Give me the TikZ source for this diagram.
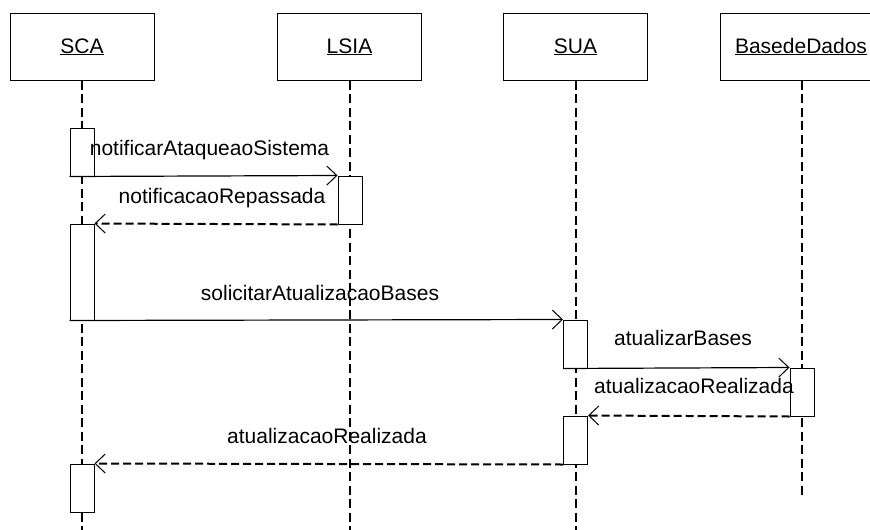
\documentclass[tikz,border=0pt]{standalone}
\usepackage{fontspec}
\setmainfont{Liberation Sans}
\usetikzlibrary{arrows.meta}
\begin{document}
\begin{tikzpicture}[x=1pt,y=-1pt,
  lbl/.style={font=\fontsize{21}{25}\selectfont, inner sep=0pt, anchor=base},
  objbox/.style={draw, line width=1pt, fill=white, minimum height=67pt, inner sep=0pt},
  actbar/.style={draw, line width=1pt, fill=white, minimum width=24pt, inner sep=0pt},
  lifeline/.style={line width=2pt, dash pattern=on 9pt off 4.5pt},
  tip/.style={-{Straight Barb[length=10pt,width=19pt,line width=1pt]}},
  callmsg/.style={tip, line width=1.2pt},
  retmsg/.style={tip, line width=2pt, dash pattern=on 8pt off 4pt}
]
\useasboundingbox (0,0) rectangle (870,530);
\fill[white] (0,0) rectangle (870,530);

% participants
\node[objbox, minimum width=144pt] (sca)  at (82,46.5)  {};
\node[objbox, minimum width=144pt] (lsia) at (349.5,46.5) {};
\node[objbox, minimum width=144pt] (sua)  at (575.5,46.5) {};
\node[objbox, minimum width=164pt] (db)   at (802,46.5) {};
\node[lbl] (tsca)  at (82,53)  {\underline{SCA}};
\node[lbl] (tlsia) at (349.5,53) {\underline{LSIA}};
\node[lbl] (tsua)  at (575.5,53) {\underline{SUA}};
\node[lbl] (tdb)   at (801,53) {\underline{BasedeDados}};

% lifeline ends
\coordinate (scaend)  at (82,530);
\coordinate (lsiaend) at (349.5,530);
\coordinate (suaend)  at (575.5,530);
\coordinate (dbend)   at (802,497);

\draw[lifeline] (sca.south)  -- (scaend);
\draw[lifeline] (lsia.south) -- (lsiaend);
\draw[lifeline] (sua.south)  -- (suaend);
\draw[lifeline] (db.south)   -- (dbend);

% activation bars
\node[actbar, minimum height=48pt] (scaA)  at (82,152)  {};
\node[actbar, minimum height=48pt] (lsiaA) at (350,200) {};
\node[actbar, minimum height=96pt] (scaB)  at (82,272)  {};
\node[actbar, minimum height=48pt] (suaA)  at (575.5,344) {};
\node[actbar, minimum height=48pt] (dbA)   at (802,392) {};
\node[actbar, minimum height=48pt] (suaB)  at (575.5,440) {};
\node[actbar, minimum height=48pt] (scaC)  at (82,488)  {};

% messages
\draw[callmsg] (scaA.south west) -- (lsiaA.north west);
\draw[retmsg]  (lsiaA.south west) -- (scaB.north east);
\draw[callmsg] (scaB.south west) -- (suaA.north west);
\draw[callmsg] (suaA.south west) -- (dbA.north west);
\draw[retmsg]  (dbA.south west) -- (suaB.north east);
\draw[retmsg]  (suaB.south west) -- (scaC.north east);

% message labels
\node[lbl] (m1) at (209.5,155) {notificarAtaqueaoSistema};
\node[lbl] (m2) at (222,203)   {notificacaoRepassada};
\node[lbl] (m3) at (320,300)   {solicitarAtualizacaoBases};
\node[lbl] (m4) at (683,345)   {atualizarBases};
\node[lbl] (m5) at (694,393)   {atualizacaoRealizada};
\node[lbl] (m6) at (327,443)   {atualizacaoRealizada};
\end{tikzpicture}
\end{document}
